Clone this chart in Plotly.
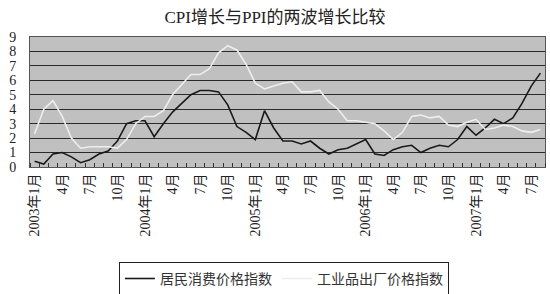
import plotly.graph_objects as go

months = [f"{y}-{m:02d}" for y in range(2003, 2008) for m in range(1, 13)][:56]

cpi = [0.4, 0.2, 0.9, 1.0, 0.7, 0.3, 0.5, 0.9, 1.1, 1.8, 3.0, 3.2,
       3.2, 2.1, 3.0, 3.8, 4.4, 5.0, 5.3, 5.3, 5.2, 4.3, 2.8, 2.4,
       1.9, 3.9, 2.7, 1.8, 1.8, 1.6, 1.8, 1.3, 0.9, 1.2, 1.3, 1.6,
       1.9, 0.9, 0.8, 1.2, 1.4, 1.5, 1.0, 1.3, 1.5, 1.4, 1.9, 2.8,
       2.2, 2.7, 3.3, 3.0, 3.4, 4.4, 5.6, 6.5]

ppi = [2.3, 4.0, 4.6, 3.5, 2.0, 1.3, 1.4, 1.4, 1.4, 1.3, 1.9, 3.0,
       3.5, 3.5, 3.9, 5.0, 5.7, 6.4, 6.4, 6.8, 7.9, 8.4, 8.1, 7.1,
       5.8, 5.4, 5.6, 5.8, 5.9, 5.2, 5.2, 5.3, 4.5, 4.0, 3.2, 3.2,
       3.1, 3.0, 2.5, 1.9, 2.4, 3.5, 3.6, 3.4, 3.5, 2.9, 2.8, 3.1,
       3.3, 2.6, 2.7, 2.9, 2.8, 2.5, 2.4, 2.6]

tick_months = months[::3]
tick_labels = [("%s年%d月" % (m[:4], int(m[5:])) if m.endswith("-01") else "%d月" % int(m[5:]))
               for m in tick_months]

series_names = ["居民消费价格指数", "工业品出厂价格指数"]
y_ticks = list(range(0, 10))

x = list(range(len(months)))
tick_pos = [months.index(m) for m in tick_months]

serif = "Liberation Serif, 'Noto Sans CJK SC', serif"
cjk = "'Noto Sans CJK SC', sans-serif"

fig = go.Figure()
fig.add_trace(go.Scatter(x=x, y=cpi, mode="lines", name=series_names[0],
                         line=dict(color="#1a1a1a", width=1.6)))
fig.add_trace(go.Scatter(x=x, y=ppi, mode="lines", name=series_names[1],
                         line=dict(color="#eeeeee", width=1.6)))

fig.update_layout(
    width=550, height=294,
    margin=dict(l=30, r=5, t=37, b=127, autoexpand=False),
    paper_bgcolor="white",
    plot_bgcolor="#c0c0c0",
    title=dict(text="CPI增长与PPI的两波增长比较", x=0.5, xanchor="center",
               y=1 - 17 / 294, yanchor="middle",
               font=dict(family=serif, size=17, color="#222")),
    showlegend=True,
    legend=dict(orientation="h", x=0.493, xanchor="center", y=-0.73, yanchor="top",
                bordercolor="#222", borderwidth=1, bgcolor="white",
                font=dict(family=cjk, size=14, color="#333"),
                itemwidth=30, tracegroupgap=0),
    xaxis=dict(range=[-0.5, len(months) - 0.5], tickvals=tick_pos, ticktext=tick_labels,
               tickangle=-90, ticks="", showgrid=False, zeroline=False, automargin=False,
               showline=True, linecolor="#555", linewidth=1, mirror=True,
               tickfont=dict(family=serif, size=14, color="#222"),
               minor=dict(tick0=-0.5, dtick=1, ticks="inside", ticklen=4,
                          tickcolor="#333", showgrid=False)),
    yaxis=dict(range=[0, 9], tickvals=y_ticks, ticks="", showgrid=True, automargin=False,
               gridcolor="#2a2a2a", gridwidth=1, zeroline=False,
               showline=True, linecolor="#555", linewidth=1, mirror=True,
               ticklabelstandoff=10,
               tickfont=dict(family=serif, size=14, color="#222")),
)

fig.write_html("out.html")
